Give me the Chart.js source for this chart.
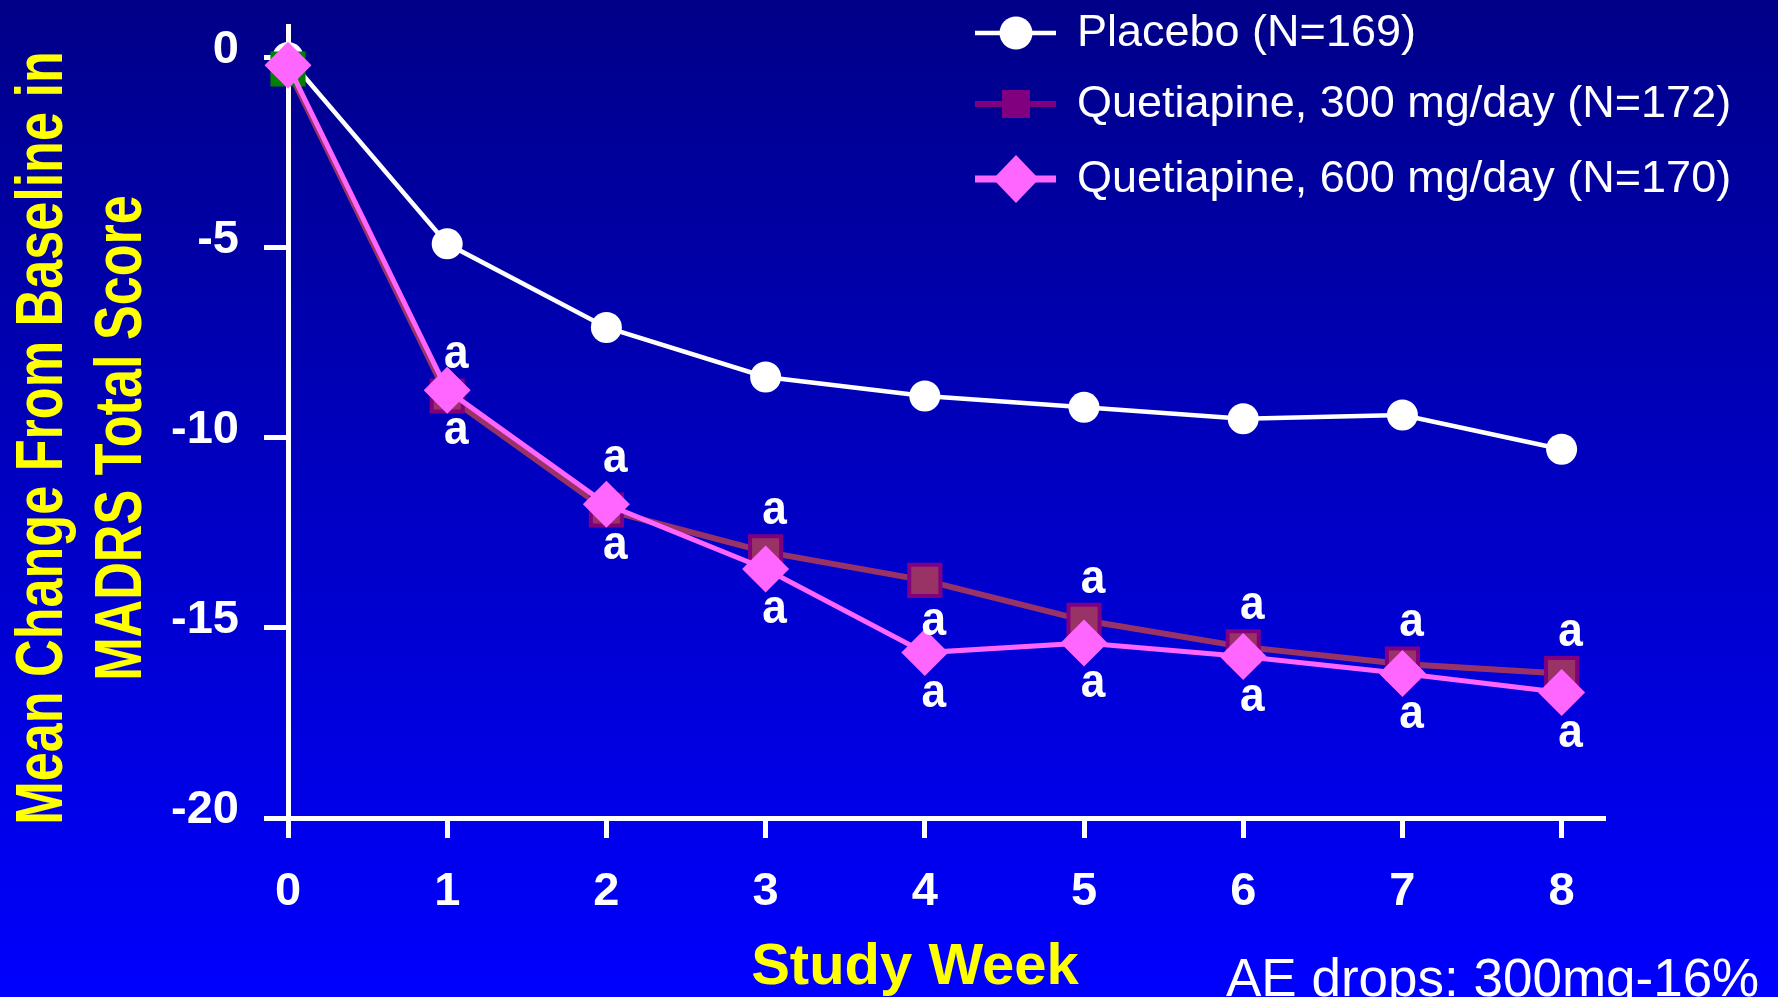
<!DOCTYPE html>
<html>
<head>
<meta charset="utf-8">
<title>MADRS change from baseline</title>
<script src="https://cdn.jsdelivr.net/npm/chart.js@4.4.1/dist/chart.umd.min.js"></script>
<style>
  html, body { margin: 0; padding: 0; overflow: hidden; background: #0000c0; }
  canvas { display: block; }
</style>
</head>
<body>
<canvas id="chart" width="1778" height="997" style="width:1778px;height:997px"></canvas>
<script>
// ---- data ----
const weeks = [0, 1, 2, 3, 4, 5, 6, 7, 8];
const placebo = [0, -4.9, -7.1, -8.4, -8.9, -9.2, -9.5, -9.4, -10.3];
const quet300 = [-0.3, -8.9, -11.9, -13.0, -13.75, -14.8, -15.5, -15.95, -16.2];
const quet600 = [-0.2, -8.75, -11.75, -13.45, -15.65, -15.4, -15.75, -16.2, -16.7];
// significance marks (a = p < 0.05 vs placebo)
const sig300 = ['', 'a', 'a', 'a', 'a', 'a', 'a', 'a', 'a'];
const sig600 = ['', 'a', 'a', 'a', 'a', 'a', 'a', 'a', 'a'];
const yTickValues = [0, -5, -10, -15, -20];
const xTickValues = [0, 1, 2, 3, 4, 5, 6, 7, 8];
const seriesNames = ['Placebo (N=169)', 'Quetiapine, 300 mg/day (N=172)', 'Quetiapine, 600 mg/day (N=170)'];
const yTitleLines = ['Mean Change From Baseline in', 'MADRS Total Score'];
const xTitleText = 'Study Week';
const footNote = 'AE drops: 300mg-16%';

// ---- styling ----
const FONT = "'Liberation Sans', Arial, Helvetica, sans-serif";
const WHITE = '#ffffff';
const YELLOW = '#ffff00';
const C300_LINE = '#993366';
const C300_EDGE = '#800080';
const C600 = '#ff66ff';

const toPoints = (ys) => weeks.map((w, i) => ({ x: w, y: ys[i] }));

// gradient slide background
const backgroundPlugin = {
  id: 'slideBackground',
  beforeDraw(chart) {
    const { ctx, width, height } = chart;
    const g = ctx.createLinearGradient(0, 0, 0, height);
    g.addColorStop(0, '#000088');
    g.addColorStop(1, '#0000ff');
    ctx.save();
    ctx.fillStyle = g;
    ctx.fillRect(0, 0, width, height);
    ctx.restore();
  }
};

// "a" significance letters next to the treatment markers
const sigPlugin = {
  id: 'sigMarks',
  afterDatasetsDraw(chart, args, opts) {
    const { ctx } = chart;
    ctx.save();
    ctx.fillStyle = WHITE;
    ctx.font = 'bold 48px ' + FONT;
    ctx.textAlign = 'center';
    ctx.textBaseline = 'middle';
    opts.sets.forEach(set => {
      const meta = chart.getDatasetMeta(set.dataset);
      set.marks.forEach((m, i) => {
        if (!m) return;
        const pt = meta.data[i];
        ctx.save();
        ctx.translate(pt.x + opts.dx, pt.y + set.side[i] * opts.dy);
        ctx.scale(0.92, 1);
        ctx.fillText(m, 0, 0);
        ctx.restore();
      });
    });
    ctx.restore();
  }
};

// axis titles, legend and footnote
const decorPlugin = {
  id: 'slideDecor',
  afterDraw(chart) {
    const { ctx } = chart;
    ctx.save();

    // y title: two rotated lines in a condensed bold face
    ctx.fillStyle = YELLOW;
    ctx.font = 'bold 66px ' + FONT;
    ctx.textAlign = 'center';
    ctx.textBaseline = 'alphabetic';
    const yBase = [62, 141];
    yTitleLines.forEach((line, k) => {
      ctx.save();
      ctx.translate(yBase[k], 438);
      ctx.rotate(-Math.PI / 2);
      ctx.scale(0.79, 1);
      ctx.fillText(line, 0, 0);
      ctx.restore();
    });

    // x title
    ctx.font = 'bold 58px ' + FONT;
    ctx.fillText(xTitleText, 915, 984);

    // footnote
    ctx.fillStyle = WHITE;
    ctx.font = '53px ' + FONT;
    ctx.textAlign = 'left';
    ctx.fillText(footNote, 1226, 996);

    // legend
    const rows = [33, 104, 179];
    const lx0 = 975, lx1 = 1056, mx = 1016, tx = 1077;
    ctx.font = '45px ' + FONT;
    ctx.textBaseline = 'middle';

    // placebo row
    ctx.strokeStyle = WHITE; ctx.lineWidth = 4.5;
    ctx.beginPath(); ctx.moveTo(lx0, rows[0]); ctx.lineTo(lx1, rows[0]); ctx.stroke();
    ctx.fillStyle = WHITE;
    ctx.beginPath(); ctx.arc(mx, rows[0], 16.5, 0, Math.PI * 2); ctx.fill();

    // 300 mg row
    ctx.strokeStyle = C300_EDGE; ctx.lineWidth = 6;
    ctx.beginPath(); ctx.moveTo(lx0, rows[1]); ctx.lineTo(lx1, rows[1]); ctx.stroke();
    ctx.fillStyle = C300_EDGE;
    ctx.fillRect(mx - 14, rows[1] - 14, 28, 28);

    // 600 mg row
    ctx.strokeStyle = C600; ctx.lineWidth = 7;
    ctx.beginPath(); ctx.moveTo(lx0, rows[2]); ctx.lineTo(lx1, rows[2]); ctx.stroke();
    ctx.fillStyle = C600;
    ctx.beginPath();
    ctx.moveTo(mx - 23, rows[2]); ctx.lineTo(mx, rows[2] - 24);
    ctx.lineTo(mx + 23, rows[2]); ctx.lineTo(mx, rows[2] + 24);
    ctx.closePath(); ctx.fill();

    ctx.fillStyle = WHITE;
    seriesNames.forEach((name, k) => ctx.fillText(name, tx, rows[k] + 1));

    ctx.restore();
  }
};

Chart.defaults.font.family = FONT;

new Chart(document.getElementById('chart'), {
  type: 'line',
  data: {
    datasets: [
      {
        label: seriesNames[0],
        data: toPoints(placebo),
        order: 3,
        borderColor: WHITE,
        borderWidth: 4.5,
        pointStyle: 'circle',
        pointRadius: 15.5,
        pointBackgroundColor: WHITE,
        pointBorderWidth: 0,
        tension: 0
      },
      {
        label: seriesNames[1],
        data: toPoints(quet300),
        order: 2,
        borderColor: C300_LINE,
        borderWidth: 6,
        pointStyle: 'rect',
        pointRadius: 22,
        pointBackgroundColor: weeks.map(w => w === 0 ? '#008000' : C300_LINE),
        pointBorderColor: weeks.map(w => w === 0 ? '#008000' : C300_EDGE),
        pointBorderWidth: 4,
        tension: 0
      },
      {
        label: seriesNames[2],
        data: toPoints(quet600),
        order: 1,
        borderColor: C600,
        borderWidth: 5,
        pointStyle: 'rectRot',
        pointRadius: 23.5,
        pointBackgroundColor: C600,
        pointBorderWidth: 0,
        tension: 0
      }
    ]
  },
  options: {
    responsive: false,
    animation: false,
    devicePixelRatio: 1,
    clip: false,
    layout: { padding: { left: 0, top: 24, right: 175, bottom: 0 } },
    plugins: {
      legend: { display: false },
      tooltip: { enabled: false },
      sigMarks: {
        dx: 9,
        dy: 41,
        sets: [
          { dataset: 1, marks: sig300, side: [0, -1, -1.25, -1, 1, -1, -1, -1, -1] },
          { dataset: 2, marks: sig600, side: [0, 1, 1, 1, 1, 1, 1, 1, 1] }
        ]
      }
    },
    scales: {
      x: {
        type: 'linear',
        min: 0,
        max: 8.26,
        afterBuildTicks(scale) { scale.ticks = xTickValues.map(v => ({ value: v })); },
        afterFit(scale) {
          scale.height = 179;
          scale.paddingLeft = 0; scale.paddingRight = 0;
        },
        border: { display: true, color: WHITE, width: 5 },
        grid: { display: true, drawOnChartArea: false, drawTicks: true, tickLength: 20, color: WHITE, lineWidth: 5 },
        ticks: { color: WHITE, font: { size: 47, weight: 'bold' }, padding: 26, maxRotation: 0, autoSkip: false }
      },
      y: {
        type: 'linear',
        min: -20,
        max: 0.83,
        afterBuildTicks(scale) { scale.ticks = yTickValues.map(v => ({ value: v })); },
        afterFit(scale) {
          scale.width = 288;
          scale.paddingTop = 0; scale.paddingBottom = 0;
        },
        border: { display: true, color: WHITE, width: 5 },
        grid: { display: true, drawOnChartArea: false, drawTicks: true, tickLength: 24, color: WHITE, lineWidth: 5 },
        ticks: { color: WHITE, font: { size: 47, weight: 'bold' }, padding: 25, labelOffset: -8, autoSkip: false }
      }
    }
  },
  plugins: [backgroundPlugin, sigPlugin, decorPlugin]
});
</script>
</body>
</html>
